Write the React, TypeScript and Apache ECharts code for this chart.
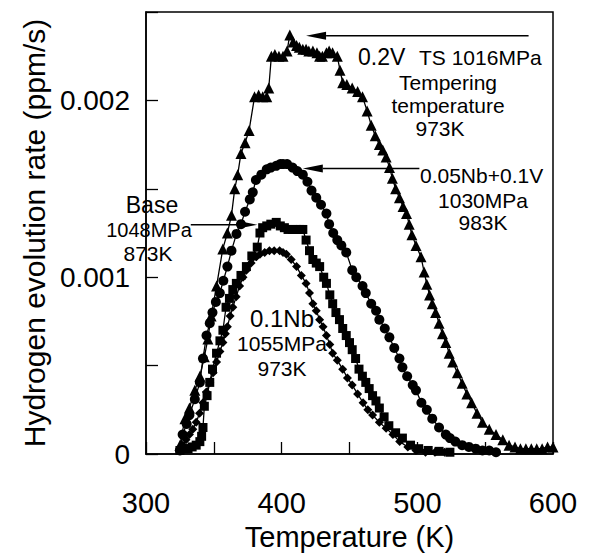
import React, { useEffect, useRef } from "react";
import * as echarts from "echarts";

// Temperature (K), hydrogen evolution rate (10^-3 ppm/s)
const V02: [number, number][] = [
  [325, 0.05], [328.7, 0.2], [332, 0.26], [336, 0.36], [339.7, 0.44], [343, 0.55], [345.6, 0.65], [348, 0.78],
  [352, 0.95], [356.6, 1.16], [360, 1.25], [363, 1.35], [365.4, 1.5], [367.6, 1.58], [370, 1.7], [373, 1.76],
  [376, 1.83], [380, 2.02], [383, 2.03], [386, 2.02], [389, 2.02], [390.5, 2.07], [392.4, 2.25], [395, 2.26],
  [398, 2.25], [401, 2.25], [404, 2.28], [406, 2.37], [408.5, 2.33], [411, 2.31], [413, 2.3], [415.6, 2.29],
  [418, 2.29], [420, 2.28], [423, 2.28], [426, 2.27], [428, 2.25], [430, 2.25], [433, 2.27], [435, 2.28],
  [437.5, 2.27], [441, 2.25], [443, 2.17], [445, 2.1], [448, 2.09], [452, 2.07], [456, 2.05], [459.6, 2.02],
  [463, 1.94], [466, 1.86], [469, 1.8], [472, 1.75], [474.5, 1.72], [477, 1.68], [479.5, 1.62], [481.6, 1.56],
  [484, 1.5], [486.8, 1.45], [489.5, 1.4], [492, 1.36], [494, 1.3], [496, 1.24], [499, 1.18], [502.7, 1.115],
  [505, 1.03], [507, 0.96], [509, 0.9], [511, 0.85], [513.5, 0.8], [516, 0.74], [518.5, 0.68], [521, 0.63],
  [523.5, 0.57], [526, 0.52], [529.5, 0.46], [533, 0.4], [536.5, 0.34], [540, 0.29], [544, 0.23], [548, 0.18],
  [553, 0.14], [558, 0.11], [563, 0.08], [567.6, 0.05], [572, 0.04], [576, 0.03], [580, 0.03], [584, 0.03],
  [588, 0.03], [592, 0.03], [596, 0.04], [600, 0.04],
];

const NB005V01: [number, number][] = [
  [325, 0.02], [327, 0.11], [330, 0.17], [332, 0.22], [336, 0.31], [339.7, 0.405], [342, 0.54], [344.6, 0.67],
  [347, 0.74], [349, 0.8], [351.5, 0.86], [354.4, 0.91], [357, 0.98], [360, 1.06], [363, 1.15], [366.7, 1.245],
  [370, 1.3], [373, 1.37], [376.5, 1.44], [378.7, 1.48], [381, 1.55], [385, 1.58], [389, 1.61], [392, 1.62],
  [396, 1.63], [399, 1.64], [401, 1.64], [404, 1.64], [408, 1.62], [411.5, 1.6], [415.6, 1.58], [419, 1.54],
  [422, 1.49], [425.5, 1.45], [429, 1.41], [433, 1.36], [435, 1.3], [438, 1.25], [441, 1.21], [444, 1.18],
  [447.6, 1.14], [452, 1.04], [455, 1.0], [459.6, 0.95], [462, 0.91], [466, 0.85], [469.6, 0.81], [472, 0.76],
  [476, 0.71], [479.4, 0.66], [483, 0.6], [486.8, 0.54], [489, 0.49], [492.5, 0.44], [496.6, 0.39], [499, 0.36],
  [503, 0.29], [507, 0.25], [511, 0.2], [516, 0.15], [521, 0.11], [524, 0.09], [528, 0.07], [533, 0.05],
  [538, 0.04], [543, 0.03], [548, 0.02], [553, 0.02], [558, 0.01],
];

const BASE: [number, number][] = [
  [325, 0.02], [328, 0.03], [331, 0.03], [334, 0.04], [337, 0.05], [339.7, 0.07], [341, 0.1], [342, 0.15],
  [343, 0.27], [345, 0.33], [347, 0.405], [349, 0.48], [352, 0.57], [354.5, 0.64], [356.7, 0.7], [359, 0.83],
  [361.5, 0.88], [364, 0.93], [366.6, 0.965], [370, 1.01], [374, 1.06], [378, 1.12], [382, 1.17], [384, 1.25],
  [386, 1.28], [389, 1.29], [392, 1.3], [396, 1.31], [399, 1.29], [402, 1.28], [404.7, 1.27], [408, 1.27],
  [411, 1.27], [413.5, 1.27], [415.6, 1.27], [418, 1.21], [420.5, 1.15], [423, 1.1], [425.5, 1.08], [428, 1.06],
  [431, 1.0], [433, 0.965], [435.5, 0.9], [437.6, 0.85], [440, 0.8], [442.6, 0.76], [445, 0.71], [447.6, 0.67],
  [450, 0.63], [452, 0.59], [454.5, 0.54], [457, 0.48], [459.5, 0.44], [462, 0.405], [464.5, 0.37], [467, 0.33],
  [469.5, 0.3], [472, 0.26], [475.5, 0.21], [479, 0.16], [484, 0.12], [489, 0.09], [495, 0.05], [501, 0.03],
  [508, 0.02], [516, 0.015], [524, 0.01],
];

const NB01: [number, number][] = [
  [327, 0.05], [329.5, 0.08], [332, 0.11], [334.5, 0.14], [337, 0.18], [339.5, 0.23], [342, 0.29], [344.5, 0.35],
  [347, 0.405], [349.5, 0.46], [352, 0.52], [354.5, 0.58], [356.7, 0.63], [358.5, 0.68], [360, 0.72], [362, 0.78],
  [364, 0.83], [366.5, 0.89], [369, 0.95], [371.5, 1.0], [374, 1.04], [377.5, 1.08], [381.4, 1.115], [384, 1.13],
  [387.5, 1.14], [391, 1.15], [394.5, 1.15], [398.5, 1.15], [401, 1.14], [403.5, 1.13], [407, 1.1], [411, 1.06],
  [414.5, 1.01], [418, 0.965], [420.5, 0.91], [423, 0.85], [425.5, 0.81], [428, 0.76], [430.5, 0.72], [433, 0.67],
  [435.5, 0.62], [437.6, 0.57], [441, 0.53], [445, 0.48], [448.5, 0.43], [452, 0.39], [456, 0.34], [460, 0.29],
  [463.5, 0.25], [467, 0.22], [472, 0.18], [477, 0.145], [482, 0.11], [487, 0.07], [493, 0.04], [499, 0.02],
  [506, 0.01], [513, 0.01], [520, 0.01],
];

const X_TICK_LABELS = [300, 400, 500, 600];
const Y_TICK_LABELS = ["0", "0.001", "0.002"];

// Annotation arrows in data coordinates: from label to curve
const ARROWS: { from: [number, number]; to: [number, number] }[] = [
  { from: [582, 2.366], to: [418, 2.366] },
  { from: [501.5, 1.615], to: [415.6, 1.615] },
  { from: [333, 1.296], to: [382, 1.296] },
];

const FONT = '"Liberation Sans", Arial, Helvetica, sans-serif';

type Ann = { text: string; x: number; y: number; size: number; align: string };
const ANNOTATIONS: Ann[] = [
  { text: "0.2V", x: 358, y: 57, size: 23, align: "left" },
  { text: "TS 1016MPa", x: 419, y: 57, size: 21, align: "left" },
  { text: "Tempering", x: 448, y: 82, size: 21, align: "center" },
  { text: "temperature", x: 448, y: 105, size: 21, align: "center" },
  { text: "973K", x: 440, y: 128, size: 21, align: "center" },
  { text: "0.05Nb+0.1V", x: 420, y: 175, size: 21, align: "left" },
  { text: "1030MPa", x: 483, y: 200, size: 21, align: "center" },
  { text: "983K", x: 483, y: 222, size: 21, align: "center" },
  { text: "Base", x: 152, y: 205, size: 23, align: "center" },
  { text: "1048MPa", x: 149, y: 230, size: 20, align: "center" },
  { text: "873K", x: 148, y: 253, size: 21, align: "center" },
  { text: "0.1Nb", x: 282, y: 318, size: 24, align: "center" },
  { text: "1055MPa", x: 282, y: 343, size: 21, align: "center" },
  { text: "973K", x: 282, y: 368, size: 21, align: "center" },
];

export default function App() {
  const ref = useRef<HTMLDivElement>(null);
  useEffect(() => {
    if (!ref.current) return;
    const chart = echarts.init(ref.current, null, { renderer: "svg" });
    const mk = (name: string, data: [number, number][], symbol: string, size: number) => ({
      name,
      type: "line",
      data,
      symbol,
      symbolSize: size,
      showAllSymbol: true,
      itemStyle: { color: "#000" },
      lineStyle: { color: "#000", width: 1.3 },
      z: 3,
    });
    chart.setOption({
      animation: false,
      backgroundColor: "#fff",
      grid: { left: 146, right: 38, top: 12, bottom: 97, show: true, borderColor: "#000", borderWidth: 1.5 },
      xAxis: {
        type: "value",
        min: 300,
        max: 600,
        interval: 50,
        name: "Temperature (K)",
        nameLocation: "middle",
        nameGap: 68,
        nameTextStyle: { fontSize: 29, fontFamily: FONT, color: "#000" },
        axisLine: { lineStyle: { color: "#000", width: 1.5 } },
        axisTick: { inside: true, length: 12, lineStyle: { color: "#000", width: 1.3 } },
        axisLabel: {
          margin: 34,
          fontSize: 29,
          fontFamily: FONT,
          color: "#000",
          formatter: (v: number) => (X_TICK_LABELS.includes(v) ? String(v) : ""),
        },
        splitLine: { show: false },
      },
      yAxis: {
        type: "value",
        min: 0,
        max: 2.5,
        interval: 0.5,
        name: "Hydrogen evolution rate (ppm/s)",
        nameLocation: "middle",
        nameGap: 94,
        nameTextStyle: { fontSize: 30, fontFamily: FONT, color: "#000" },
        axisLine: { lineStyle: { color: "#000", width: 1.5 } },
        axisTick: { inside: true, length: 12, lineStyle: { color: "#000", width: 1.3 } },
        axisLabel: {
          margin: 16,
          fontSize: 28,
          fontFamily: FONT,
          color: "#000",
          formatter: (v: number) => {
            const i = Math.round(v);
            return Math.abs(v - i) < 1e-9 && i < Y_TICK_LABELS.length ? Y_TICK_LABELS[i] : "";
          },
        },
        splitLine: { show: false },
      },
      series: [
        mk("0.2V", V02, "triangle", 11),
        mk("0.05Nb+0.1V", NB005V01, "circle", 10),
        mk("Base", BASE, "rect", 9),
        mk("0.1Nb", NB01, "diamond", 9),
      ],
    });

    const arrowEls: any[] = [];
    ARROWS.forEach((a) => {
      const p1 = chart.convertToPixel({ gridIndex: 0 }, a.from) as number[];
      const p2 = chart.convertToPixel({ gridIndex: 0 }, a.to) as number[];
      const dx = p2[0] - p1[0];
      const dy = p2[1] - p1[1];
      const len = Math.hypot(dx, dy) || 1;
      const ux = dx / len;
      const uy = dy / len;
      const L = 20;
      const W = 4;
      const bx = p2[0] - ux * L;
      const by = p2[1] - uy * L;
      arrowEls.push({
        type: "line",
        shape: { x1: p1[0], y1: p1[1], x2: bx, y2: by },
        style: { stroke: "#000", lineWidth: 1.5 },
        z: 10,
      });
      arrowEls.push({
        type: "polygon",
        shape: {
          points: [
            [p2[0], p2[1]],
            [bx - uy * W, by + ux * W],
            [bx + uy * W, by - ux * W],
          ],
        },
        style: { fill: "#000" },
        z: 10,
      });
    });
    const textEls = ANNOTATIONS.map((t) => ({
      type: "text",
      x: t.x,
      y: t.y,
      z: 10,
      style: {
        text: t.text,
        fill: "#000",
        fontSize: t.size,
        fontFamily: FONT,
        align: t.align,
        verticalAlign: "middle",
        textAlign: t.align,
        textVerticalAlign: "middle",
      },
    }));
    chart.setOption({ graphic: [...arrowEls, ...textEls] });
    return () => chart.dispose();
  }, []);
  return <div ref={ref} style={{ position: "fixed", left: 0, top: 0, width: 591, height: 556 }} />;
}
